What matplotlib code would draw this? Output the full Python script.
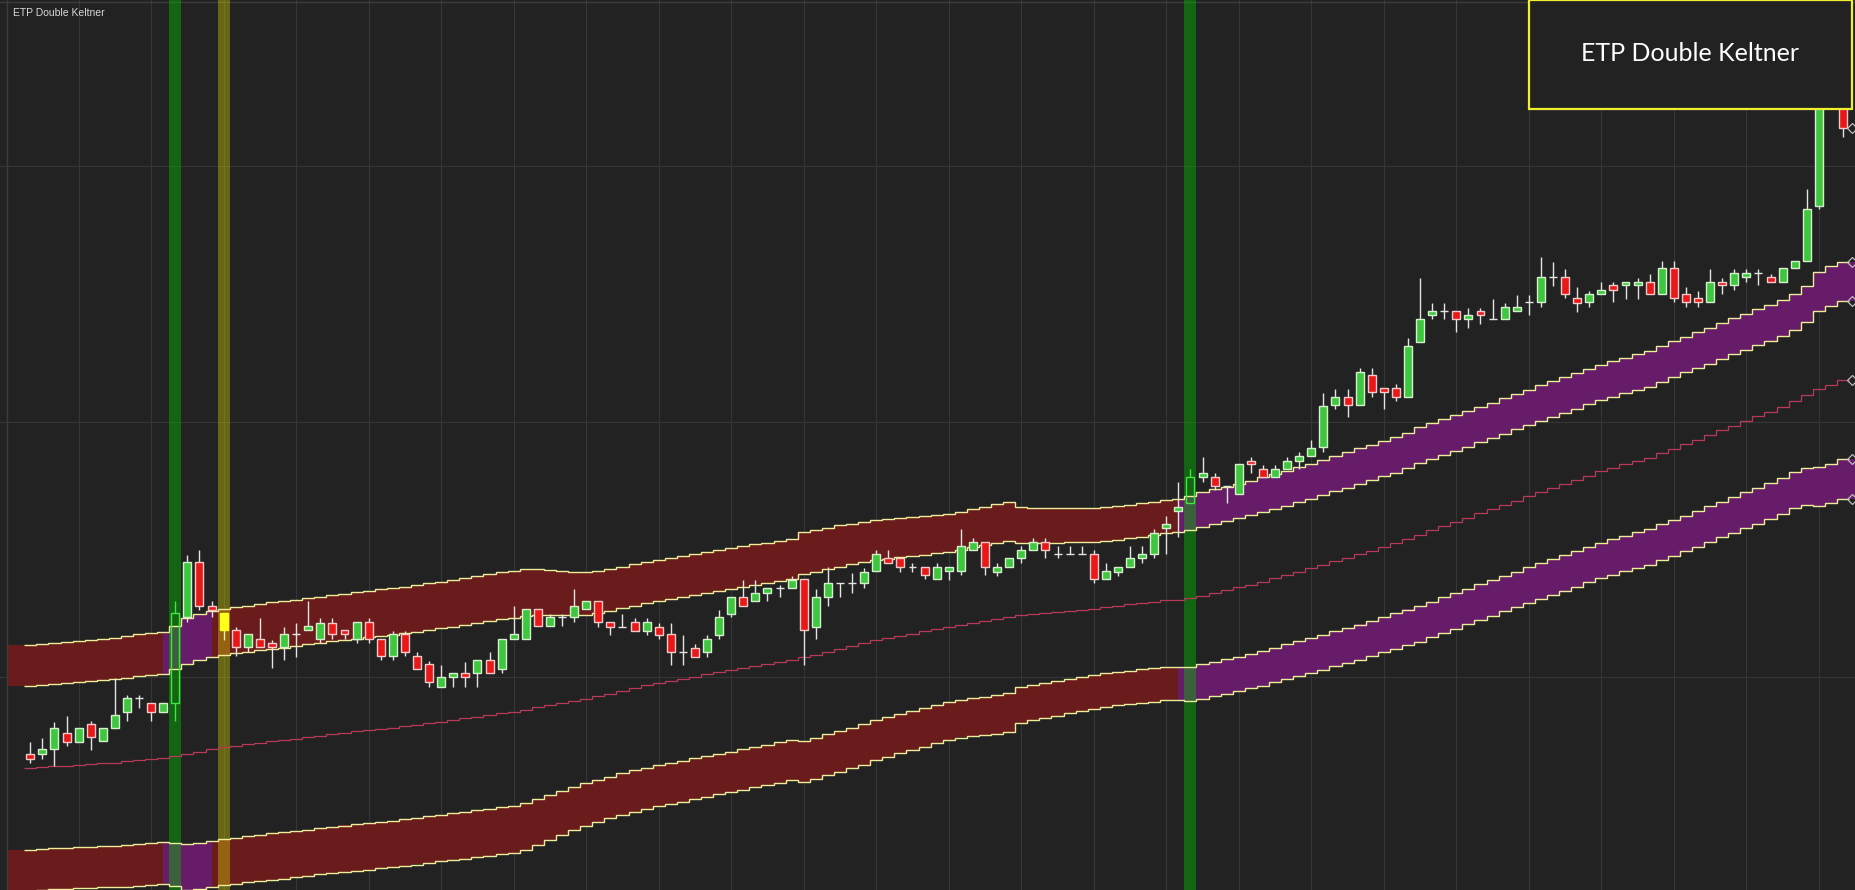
import numpy as np
import matplotlib.pyplot as plt
from matplotlib.patches import Rectangle

# OHLC per bar (price units)
opens = [13.60, 13.57, 14.07, 15.73, 14.83, 16.57, 14.87, 16.17, 17.83, 19.17,
         18.67, 17.83, 18.67, 27.27, 32.77, 28.43, 27.67, 26.00, 24.27, 25.10,
         24.67, 24.27, 25.57, 26.00, 25.10, 26.73, 26.00, 25.10, 26.77, 25.10,
         23.40, 25.57, 23.40, 22.57, 20.33, 21.27, 21.67, 21.67, 22.97, 22.13,
         25.07, 25.07, 28.07, 26.40, 27.33, 27.27, 28.07, 28.93, 26.77, 26.33,
         26.77, 25.93, 26.33, 25.60, 23.83, 24.23, 23.83, 25.50, 27.60, 29.33,
         28.93, 29.73, 30.17, 30.17, 31.07, 26.33, 29.33, 30.67, 30.67, 30.67,
         31.90, 33.17, 33.17, 32.33, 32.33, 31.07, 31.90, 31.90, 34.00, 34.83,
         31.83, 32.33, 33.17, 34.00, 34.83, 33.57, 33.57, 33.57, 33.57, 31.07,
         31.83, 32.33, 33.17, 33.57, 36.17, 37.90, 38.67, 41.27, 41.27, 40.43,
         39.60, 42.93, 42.13, 41.27, 42.13, 42.93, 43.37, 44.27, 48.50, 49.33,
         48.50, 51.50, 50.17, 50.17, 49.33, 54.83, 57.47, 57.90, 57.90, 57.07,
         57.90, 57.07, 57.07, 57.90, 58.80, 58.80, 61.27, 61.27, 59.17, 58.77,
         59.57, 60.47, 60.47, 60.47, 60.83, 59.57, 62.17, 59.57, 59.17, 58.77,
         60.83, 60.47, 61.27, 61.67, 61.27, 60.83, 62.17, 62.93, 68.40, 80.00,
         80.00]
highs = [14.80, 15.20, 16.83, 17.40, 16.17, 16.90, 16.17, 21.17, 19.50, 19.50,
         18.70, 18.67, 28.93, 33.50, 34.00, 28.93, 27.67, 26.33, 25.60, 27.23,
         25.00, 26.33, 26.67, 28.90, 27.17, 27.17, 26.00, 26.77, 27.17, 25.10,
         25.90, 25.90, 23.83, 22.90, 22.50, 21.67, 22.83, 22.97, 23.80, 25.07,
         28.40, 28.07, 28.07, 27.60, 27.60, 30.10, 28.93, 28.93, 26.77, 27.60,
         27.17, 27.17, 26.73, 26.73, 25.50, 24.60, 25.50, 28.00, 29.33, 31.00,
         31.00, 30.17, 30.50, 31.40, 31.07, 30.10, 32.33, 30.67, 31.73, 32.23,
         34.00, 34.00, 33.17, 32.73, 32.33, 32.73, 32.33, 36.07, 35.23, 34.83,
         32.67, 33.17, 34.40, 35.23, 35.23, 34.40, 34.40, 34.40, 34.00, 32.73,
         32.33, 34.40, 34.40, 36.07, 37.40, 40.83, 42.07, 43.27, 41.67, 40.43,
         42.57, 43.27, 42.50, 42.50, 43.27, 43.80, 45.00, 49.67, 50.07, 50.07,
         52.23, 52.23, 50.17, 50.57, 55.17, 61.17, 58.73, 58.73, 57.90, 58.17,
         58.17, 59.07, 58.67, 59.50, 59.50, 63.27, 62.83, 62.07, 60.33, 59.93,
         60.83, 60.83, 60.83, 61.17, 61.60, 62.90, 62.90, 60.33, 59.93, 62.10,
         61.17, 62.10, 62.10, 62.10, 61.60, 62.17, 62.93, 70.07, 81.00, 83.50,
         81.00]
lows = [12.70, 13.10, 12.43, 14.43, 14.83, 14.00, 14.87, 16.17, 16.90, 18.23,
        16.93, 17.83, 16.93, 26.83, 28.00, 27.27, 25.00, 23.40, 23.83, 24.27,
        22.17, 23.00, 23.33, 26.00, 24.67, 25.10, 25.10, 24.67, 24.67, 23.00,
        23.00, 23.40, 22.13, 20.33, 20.33, 20.33, 20.33, 20.33, 21.67, 21.67,
        25.07, 25.07, 26.40, 26.40, 26.40, 26.77, 28.07, 26.33, 25.50, 26.33,
        25.93, 25.50, 25.07, 22.50, 22.50, 23.33, 23.33, 25.07, 27.27, 28.43,
        28.93, 28.93, 29.33, 30.17, 22.50, 25.07, 28.40, 29.33, 29.73, 30.17,
        31.90, 32.73, 31.83, 31.83, 31.07, 31.07, 31.00, 31.50, 34.00, 31.50,
        31.40, 32.33, 32.73, 34.00, 33.17, 33.17, 33.57, 33.57, 30.67, 31.07,
        31.40, 32.33, 32.73, 33.17, 33.57, 35.27, 38.67, 40.83, 40.00, 38.67,
        39.60, 41.67, 41.27, 41.27, 42.13, 42.07, 43.37, 43.83, 48.07, 47.27,
        48.50, 49.33, 48.07, 48.93, 49.33, 54.83, 57.07, 57.07, 55.83, 56.17,
        56.60, 57.07, 57.07, 57.90, 57.47, 58.27, 60.43, 59.17, 57.83, 58.27,
        59.57, 58.77, 59.13, 59.13, 59.57, 59.57, 58.77, 58.27, 58.27, 58.77,
        59.57, 59.97, 60.83, 60.47, 60.83, 60.83, 62.17, 62.93, 68.07, 79.50,
        75.33]
closes = [13.10, 14.07, 16.17, 14.83, 16.17, 15.27, 16.17, 17.50, 19.17, 19.17,
          17.83, 18.67, 27.67, 32.77, 28.43, 28.00, 26.00, 24.27, 25.57, 24.27,
          24.27, 25.57, 25.57, 26.40, 26.73, 25.57, 25.57, 26.77, 25.10, 23.40,
          25.57, 23.83, 22.13, 20.83, 21.27, 21.67, 21.27, 22.97, 21.67, 25.07,
          25.57, 28.07, 26.40, 27.27, 27.33, 28.43, 28.93, 26.77, 26.33, 26.33,
          25.93, 26.77, 25.50, 23.83, 23.83, 23.33, 25.07, 27.27, 29.33, 28.43,
          29.73, 30.17, 30.17, 31.00, 26.00, 29.33, 30.67, 30.67, 30.67, 31.83,
          33.57, 32.73, 32.33, 32.33, 31.50, 32.33, 32.33, 34.40, 34.83, 32.33,
          32.33, 33.17, 34.00, 34.83, 34.00, 33.57, 33.57, 33.57, 31.07, 31.90,
          32.33, 33.17, 33.57, 35.73, 36.57, 38.27, 41.27, 41.67, 40.43, 40.43,
          42.57, 42.57, 41.27, 42.13, 42.93, 43.37, 44.23, 48.43, 49.33, 48.50,
          51.83, 49.77, 49.77, 49.33, 54.43, 57.07, 57.90, 57.90, 57.07, 57.47,
          57.47, 57.07, 58.27, 58.27, 58.80, 61.27, 61.27, 59.60, 58.73, 59.60,
          59.97, 59.97, 60.83, 60.83, 59.57, 62.17, 59.17, 58.77, 58.77, 60.83,
          60.47, 61.67, 61.67, 61.67, 60.83, 62.17, 62.93, 68.07, 80.00, 82.50,
          76.17]

# Keltner centre line and ATR per bar
mid = [12.20, 12.28, 12.36, 12.44, 12.52, 12.60, 12.68, 12.75, 12.88, 12.99, 13.10, 13.21,
       13.40, 13.60, 13.85, 14.10, 14.30, 14.45, 14.60, 14.75, 14.90, 15.00,
       15.15, 15.30, 15.45, 15.60, 15.73, 15.86, 15.99, 16.12, 16.25, 16.38, 16.53, 16.68,
       16.84, 17.00, 17.17, 17.34, 17.50, 17.67, 17.84, 18.05, 18.26, 18.47, 18.68, 18.90,
       19.10, 19.37, 19.65, 19.92, 20.20, 20.47, 20.70, 20.90, 21.10, 21.35, 21.57, 21.78,
       21.99, 22.20, 22.41, 22.62, 22.83, 23.05, 23.28, 23.55, 23.85, 24.13, 24.40, 24.70,
       24.97, 25.20, 25.43, 25.65, 25.87, 26.10, 26.32, 26.53, 26.72, 26.92, 27.10, 27.30,
       27.50, 27.60, 27.70, 27.82, 27.93, 28.05, 28.15, 28.30, 28.43, 28.57, 28.70, 28.84,
       28.98, 29.05, 29.17, 29.45, 29.72, 30.00, 30.27, 30.54, 30.85, 31.17, 31.50, 31.83,
       32.17, 32.50, 32.86, 33.23, 33.59, 33.95, 34.32, 34.70, 35.13, 35.55, 35.98, 36.40,
       36.83, 37.25, 37.68, 38.10, 38.53, 38.95, 39.36, 39.78, 40.20, 40.60, 41.03, 41.45,
       41.87, 42.22, 42.56, 42.90, 43.23, 43.70, 44.14, 44.60, 45.05, 45.50, 45.99, 46.45,
       46.90, 47.36, 47.80, 48.30, 48.90, 49.50, 50.10, 50.55, 51.00]
atr = [4.10, 4.10, 4.10, 4.11, 4.12, 4.13, 4.14, 4.16, 4.18, 4.19, 4.20, 4.20,
       4.33, 4.52, 4.58, 4.60, 4.60,
       4.61, 4.61, 4.62, 4.62, 4.62, 4.63, 4.63, 4.63, 4.64, 4.64, 4.64, 4.65, 4.65, 4.65, 4.65, 4.66, 4.66,
       4.66, 4.67, 4.68, 4.68, 4.69, 4.70, 4.70, 4.68,
       4.60, 4.50, 4.40, 4.30, 4.22, 4.18, 4.15, 4.13, 4.12, 4.11, 4.10,
       4.10, 4.09, 4.08, 4.08, 4.07, 4.07, 4.06, 4.05, 4.04, 4.03, 4.03,
       4.17, 4.15, 4.13, 4.11, 4.08, 4.05, 4.00, 3.96, 3.92, 3.88, 3.84, 3.80, 3.76, 3.76, 3.78, 3.80, 3.82, 3.82,
       3.60, 3.54, 3.50, 3.46, 3.42, 3.38, 3.34, 3.32, 3.31, 3.31, 3.32, 3.33, 3.34, 3.36,
       3.42, 3.44, 3.45, 3.45, 3.46, 3.46, 3.47, 3.47, 3.47, 3.48, 3.48, 3.50, 3.50, 3.51, 3.52,
       3.52, 3.52, 3.52, 3.54, 3.58, 3.57, 3.56, 3.56, 3.55, 3.55, 3.55, 3.55, 3.55, 3.55, 3.56,
       3.56, 3.56, 3.56, 3.56, 3.56, 3.56, 3.56, 3.56, 3.56, 3.57, 3.58, 3.58, 3.57, 3.57, 3.57,
       3.57, 3.57, 3.57, 3.57, 3.57, 3.57, 3.65, 3.90, 3.95, 3.95]

up_runs = [(11, 15), (95, 151)]   # stretches where the channel turns bullish
signal_green = [12, 96]
signal_olive = [16]
hollow = [12, 96]
marked = 16
title = "ETP Double Keltner"

n = len(closes)
x = np.arange(n)
mid = np.array(mid)
atr = np.array(atr)
up_out, up_in = mid + 3 * atr, mid + 2 * atr
lo_in, lo_out = mid - 2 * atr, mid - 3 * atr

bg = "#222222"
fig = plt.figure(figsize=(18.55, 8.9), dpi=100, facecolor=bg)
ax = fig.add_axes([0, 0, 1, 1])
ax.set_facecolor(bg)
ax.set_xlim(-2.507, 150.99)
ax.set_ylim(0, 89)
ax.axis("off")

for gx in range(4, n, 6):
    ax.axvline(gx, color="#363636", lw=0.8, zorder=0)
for gy in [21.3, 46.83, 72.36]:
    ax.axhline(gy, color="#363636", lw=0.8, zorder=0)
ax.axvline(-1.93, color="#3c3c3c", lw=1.0, zorder=0)
ax.axhline(88.85, color="#3c3c3c", lw=1.0, zorder=0)

# channel fills, coloured by regime
x_left = -1.845
xe = np.concatenate([[x_left], x, [151.0]])


def ext(a):
    return np.concatenate([[a[0]], a, [a[-1]]])


red_fill, purple_fill = "#6a1c1c", "#661c68"
segs = []
cur = x_left
for a, b in up_runs:
    segs.append((cur, a, red_fill))
    segs.append((a, b, purple_fill))
    cur = b
if cur < 151:
    segs.append((cur, 151, red_fill))
for s, e, col in segs:
    m = (xe >= s) & (xe <= e)
    for lo, hi in [(up_in, up_out), (lo_out, lo_in)]:
        ax.fill_between(xe[m], ext(lo)[m], ext(hi)[m], step="mid",
                        color=col, lw=0, zorder=1)

for k in signal_green:
    ax.axvspan(k - 0.5, k + 0.5, color="#00c000", alpha=0.42, lw=0, zorder=2)
for k in signal_olive:
    ax.axvspan(k - 0.5, k + 0.5, color="#e6e600", alpha=0.35, lw=0, zorder=2)

edges = np.arange(n + 1) - 0.5
for band in [up_out, up_in, lo_in, lo_out]:
    ax.stairs(band, edges, baseline=None, color="#eeee9a", lw=1.0, zorder=3)
ax.stairs(mid, edges, baseline=None, color="#b83a58", lw=0.9, zorder=3)

# candles
w = 0.33
for i in range(n):
    o, h, l, c = opens[i], highs[i], lows[i], closes[i]
    top, bot = max(o, c), min(o, c)
    if i in hollow:
        face, edge, wick = "none", "#3ee83e", "#3ee83e"
    elif i == marked:
        face, edge, wick = "#ffff1a", "#ffff1a", "#f0f0a0"
    elif c > o:
        face, edge, wick = "#3fc63f", "#d4f0cc", "#e4e4e4"
    elif c < o:
        face, edge, wick = "#e81818", "#f3c9c9", "#e4e4e4"
    else:
        ax.vlines(i, l, h, color="#e4e4e4", lw=1.0, zorder=4)
        ax.hlines(o, i - w, i + w, color="#e4e4e4", lw=1.0, zorder=4)
        continue
    ax.vlines(i, l, bot, color=wick, lw=1.0, zorder=4)
    ax.vlines(i, top, h, color=wick, lw=1.0, zorder=4)
    ax.add_patch(Rectangle((i - w, bot), 2 * w, top - bot, facecolor=face,
                           edgecolor=edge, lw=1.0, zorder=5))

# last-value markers on the right edge
last_vals = [up_out[-1], up_in[-1], mid[-1], lo_in[-1], lo_out[-1], closes[-1]]
ax.plot([150.74] * len(last_vals), last_vals, "D", ms=5, mfc="none",
        mec="#bbbbbb", mew=0.9, zorder=6)

ax.text(13 / 1855, 1 - 13 / 890, title, transform=ax.transAxes, fontsize=7.5,
        color="#d8d8d8", ha="left", va="center", family="Liberation Sans", zorder=8)

ax.add_patch(Rectangle((1529 / 1855, 1 - 109 / 890), 323 / 1855, 109 / 890,
                       transform=ax.transAxes, facecolor=bg, edgecolor="#f0f030",
                       lw=1.6, zorder=20))
ax.text(0.911, 0.94, title, transform=ax.transAxes, fontsize=18,
        color="#ffffff", family="Lato", ha="center", va="center", zorder=21)

fig.savefig("out.png", dpi=100, facecolor=bg)
